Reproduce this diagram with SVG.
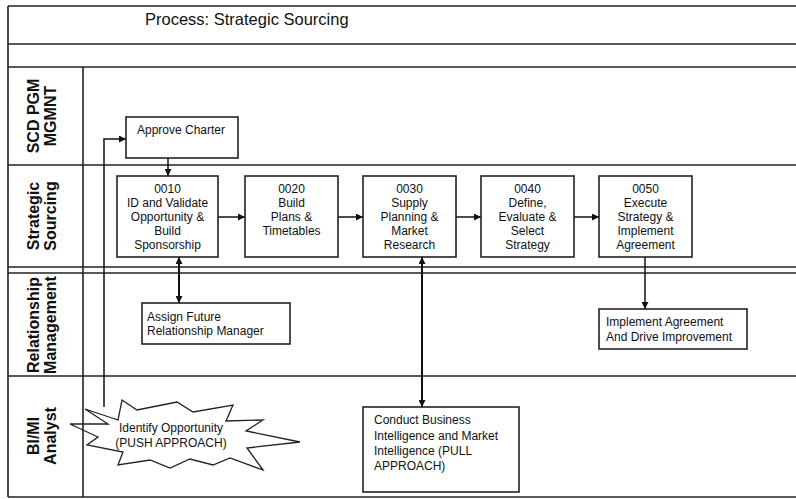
<svg xmlns="http://www.w3.org/2000/svg" width="796" height="499" viewBox="0 0 796 499">
<style>
.frame{stroke:#222;stroke-width:1.6;fill:none}
.box{fill:#fff;stroke:#222;stroke-width:1.6}
.burst{fill:none;stroke:#222;stroke-width:1.3}
.t{font-family:"Liberation Sans",Arial,sans-serif;font-size:12px;fill:#111}
.c{text-anchor:middle}
.lane{font-family:"Liberation Sans",Arial,sans-serif;font-size:16px;font-weight:bold;fill:#111;text-anchor:middle}
.title{font-family:"Liberation Sans",Arial,sans-serif;font-size:16.5px;fill:#111}
.con{stroke:#111;stroke-width:1.5;fill:none}
.conb{stroke:#111;stroke-width:2;fill:none}
</style>
<defs>
<marker id="ah" viewBox="0 0 10 10" refX="10" refY="5" markerWidth="7" markerHeight="7" orient="auto-start-reverse" markerUnits="userSpaceOnUse">
<path d="M0,0 L10,5 L0,10 Z" fill="#111"/>
</marker>
</defs>
<rect width="796" height="499" fill="#fff"/>
<g id="frame">
<line class="frame" x1="8" y1="6" x2="796" y2="6"/>
<line class="frame" x1="8" y1="6" x2="8" y2="497"/>
<line class="frame" x1="8" y1="44" x2="796" y2="44"/>
<line class="frame" x1="8" y1="67" x2="796" y2="67"/>
<line class="frame" x1="8" y1="165" x2="796" y2="165"/>
<line class="frame" x1="8" y1="267" x2="796" y2="267"/>
<line class="frame" x1="8" y1="273" x2="796" y2="273"/>
<line class="frame" x1="8" y1="376" x2="796" y2="376"/>
<line class="frame" x1="8" y1="497" x2="796" y2="497"/>
<line class="frame" x1="83" y1="67" x2="83" y2="497"/>
<text class="title" x="145" y="25">Process: Strategic Sourcing</text>
</g>
<g id="lane-labels">
<text class="lane" transform="translate(39,116) rotate(-90)">SCD PGM</text>
<text class="lane" transform="translate(56,116) rotate(-90)">MGMNT</text>
<text class="lane" transform="translate(39,216) rotate(-90)">Strategic</text>
<text class="lane" transform="translate(56,216) rotate(-90)">Sourcing</text>
<text class="lane" transform="translate(39,325) rotate(-90)">Relationship</text>
<text class="lane" transform="translate(56,325) rotate(-90)">Management</text>
<text class="lane" transform="translate(39,436) rotate(-90)">BI/MI</text>
<text class="lane" transform="translate(56,436) rotate(-90)">Analyst</text>
</g>
<g id="connectors">
<polyline class="con" points="104,407 104,139 126,139" marker-end="url(#ah)"/>
<line class="con" x1="168" y1="158" x2="168" y2="176" marker-end="url(#ah)"/>
<line class="con" x1="218" y1="217" x2="245" y2="217" marker-end="url(#ah)"/>
<line class="con" x1="338" y1="217" x2="363" y2="217" marker-end="url(#ah)"/>
<line class="con" x1="456" y1="217" x2="481" y2="217" marker-end="url(#ah)"/>
<line class="con" x1="574" y1="217" x2="599" y2="217" marker-end="url(#ah)"/>
<line class="conb" x1="179" y1="257" x2="179" y2="303" marker-start="url(#ah)" marker-end="url(#ah)"/>
<line class="conb" x1="422" y1="257" x2="422" y2="407" marker-start="url(#ah)" marker-end="url(#ah)"/>
<line class="con" x1="645" y1="257" x2="645" y2="309" marker-end="url(#ah)"/>
</g>
<g id="approve-charter">
<rect class="box" x="126" y="117" width="112" height="41"/>
<text class="t c" x="181" y="134">Approve Charter</text>
</g>
<g id="n0010">
<rect class="box" x="117" y="176" width="101" height="81"/>
<text class="t c" x="167.5" y="193">0010</text>
<text class="t c" x="167.5" y="207">ID and Validate</text>
<text class="t c" x="167.5" y="221">Opportunity &amp;</text>
<text class="t c" x="167.5" y="235">Build</text>
<text class="t c" x="167.5" y="249">Sponsorship</text>
</g>
<g id="n0020">
<rect class="box" x="245" y="176" width="93" height="81"/>
<text class="t c" x="291.5" y="193">0020</text>
<text class="t c" x="291.5" y="207">Build</text>
<text class="t c" x="291.5" y="221">Plans &amp;</text>
<text class="t c" x="291.5" y="235">Timetables</text>
</g>
<g id="n0030">
<rect class="box" x="363" y="176" width="93" height="81"/>
<text class="t c" x="409.5" y="193">0030</text>
<text class="t c" x="409.5" y="207">Supply</text>
<text class="t c" x="409.5" y="221">Planning &amp;</text>
<text class="t c" x="409.5" y="235">Market</text>
<text class="t c" x="409.5" y="249">Research</text>
</g>
<g id="n0040">
<rect class="box" x="481" y="176" width="93" height="81"/>
<text class="t c" x="527.5" y="193">0040</text>
<text class="t c" x="527.5" y="207">Define,</text>
<text class="t c" x="527.5" y="221">Evaluate &amp;</text>
<text class="t c" x="527.5" y="235">Select</text>
<text class="t c" x="527.5" y="249">Strategy</text>
</g>
<g id="n0050">
<rect class="box" x="599" y="176" width="93" height="81"/>
<text class="t c" x="645.5" y="193">0050</text>
<text class="t c" x="645.5" y="207">Execute</text>
<text class="t c" x="645.5" y="221">Strategy &amp;</text>
<text class="t c" x="645.5" y="235">Implement</text>
<text class="t c" x="645.5" y="249">Agreement</text>
</g>
<g id="assign-manager">
<rect class="box" x="142" y="303" width="148" height="41"/>
<text class="t" x="147" y="321">Assign Future</text>
<text class="t" x="147" y="335">Relationship Manager</text>
</g>
<g id="implement-agreement">
<rect class="box" x="599" y="309" width="148" height="40"/>
<text class="t" x="606" y="326">Implement Agreement</text>
<text class="t" x="606" y="341">And Drive Improvement</text>
</g>
<g id="identify-opportunity">
<polygon class="burst" points="70,424 108,424 85,409 118,420 122,400 137,410 177,402 193,412 233,405 226,421 263,420 246,431 300,442 247,448 263,470 230,458 213,465 190,459 170,468 150,460 118,465 123,452 87,445 98,437"/>
<text class="t c" x="171" y="432">Identify Opportunity</text>
<text class="t c" x="171" y="447">(PUSH APPROACH)</text>
</g>
<g id="conduct-bi">
<rect class="box" x="363" y="407" width="156" height="85"/>
<text class="t" x="374" y="424">Conduct Business</text>
<text class="t" x="374" y="440">Intelligence and Market</text>
<text class="t" x="374" y="455">Intelligence (PULL</text>
<text class="t" x="374" y="470">APPROACH)</text>
</g>
</svg>
